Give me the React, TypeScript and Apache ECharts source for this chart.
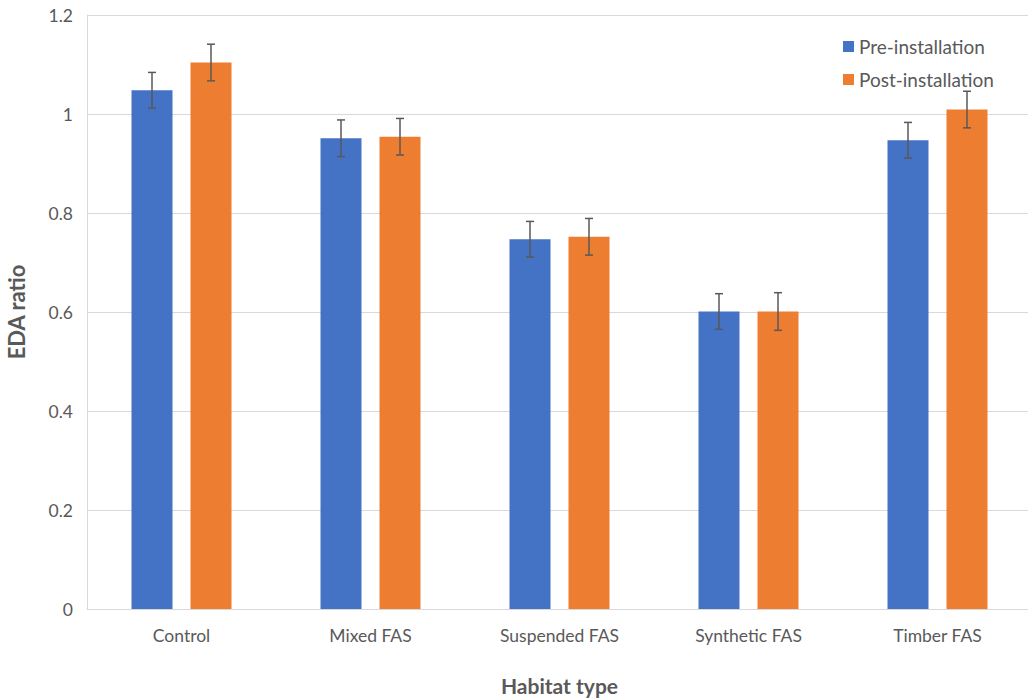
import React, { useEffect, useRef } from "react";
import * as echarts from "echarts";

const categories = ["Control", "Mixed FAS", "Suspended FAS", "Synthetic FAS", "Timber FAS"];
const preValues = [1.048, 0.951, 0.747, 0.601, 0.947];
const postValues = [1.104, 0.954, 0.752, 0.601, 1.009];
const preErrors = [0.036, 0.037, 0.036, 0.036, 0.036];
const postErrors = [0.037, 0.037, 0.037, 0.038, 0.037];
const yTicks = [0, 0.2, 0.4, 0.6, 0.8, 1, 1.2];

const FONT = "Lato, 'Open Sans', sans-serif";
const BAR_W = 41;
const GAP = 18;

function errorSeries(name: string, values: number[], errors: number[], offset: number) {
  return {
    type: "custom",
    name,
    z: 10,
    data: values.map((v, i) => [i, v, errors[i]]),
    renderItem: (params: any, api: any) => {
      const idx = api.value(0);
      const v = api.value(1);
      const e = api.value(2);
      const top = api.coord([idx, v + e]);
      const bot = api.coord([idx, v - e]);
      const x = top[0] + offset;
      const cap = 4;
      const style = { stroke: "#595959", lineWidth: 1.5 };
      return {
        type: "group",
        children: [
          { type: "line", shape: { x1: x, y1: top[1], x2: x, y2: bot[1] }, style },
          { type: "line", shape: { x1: x - cap, y1: top[1], x2: x + cap, y2: top[1] }, style },
          { type: "line", shape: { x1: x - cap, y1: bot[1], x2: x + cap, y2: bot[1] }, style },
        ],
      };
    },
  };
}

export default function App() {
  const ref = useRef<HTMLDivElement>(null);
  useEffect(() => {
    if (!ref.current) return;
    const chart = echarts.init(ref.current, null, { renderer: "svg" });
    const off = (BAR_W + GAP) / 2;
    chart.setOption({
      animation: false,
      backgroundColor: "#ffffff",
      textStyle: { fontFamily: FONT },
      grid: { left: 87, top: 15, width: 945, bottom: 91, containLabel: false, outerBoundsMode: "none" },
      legend: {
        data: ["Pre-installation", "Post-installation"],
        orient: "vertical",
        left: 838,
        top: 32,
        itemWidth: 11,
        itemHeight: 11,
        itemGap: 14,
        icon: "rect",
        textStyle: { fontFamily: FONT, fontSize: 19, color: "#595959" },
      },
      xAxis: {
        type: "category",
        data: categories,
        name: "Habitat type",
        nameLocation: "middle",
        nameGap: 66,
        nameTextStyle: { fontFamily: FONT, fontSize: 21, fontWeight: "bold", color: "#595959" },
        axisLine: { show: true, lineStyle: { color: "#d9d9d9", width: 1 } },
        axisTick: { show: false },
        axisLabel: { fontFamily: FONT, fontSize: 17.5, color: "#595959", margin: 17 },
      },
      yAxis: {
        type: "value",
        min: 0,
        max: 1.2,
        interval: 0.2,
        name: "EDA ratio",
        nameLocation: "middle",
        nameGap: 60,
        nameRotate: 90,
        nameTextStyle: { fontFamily: FONT, fontSize: 22, fontWeight: "bold", color: "#595959" },
        axisLine: { show: true, lineStyle: { color: "#d9d9d9", width: 1 } },
        axisTick: { show: false },
        splitLine: { lineStyle: { color: "#d9d9d9", width: 1 } },
        axisLabel: {
          fontFamily: FONT,
          fontSize: 17.5,
          color: "#595959",
          margin: 14,
          formatter: (v: number) => {
            const t = yTicks.find((x) => Math.abs(x - v) < 1e-9);
            return String(t !== undefined ? t : v);
          },
        },
      },
      series: [
        {
          type: "bar",
          name: "Pre-installation",
          data: preValues,
          barWidth: BAR_W,
          barGap: (GAP / BAR_W) * 100 + "%",
          itemStyle: { color: "#4472c4" },
        },
        {
          type: "bar",
          name: "Post-installation",
          data: postValues,
          barWidth: BAR_W,
          barGap: (GAP / BAR_W) * 100 + "%",
          itemStyle: { color: "#ed7d31" },
        },
        errorSeries("preErr", preValues, preErrors, -off),
        errorSeries("postErr", postValues, postErrors, off),
      ],
    });
    return () => chart.dispose();
  }, []);
  return (
    <div
      ref={ref}
      style={{ position: "absolute", left: 0, top: 0, width: 1028, height: 700, overflow: "hidden" }}
    />
  );
}
